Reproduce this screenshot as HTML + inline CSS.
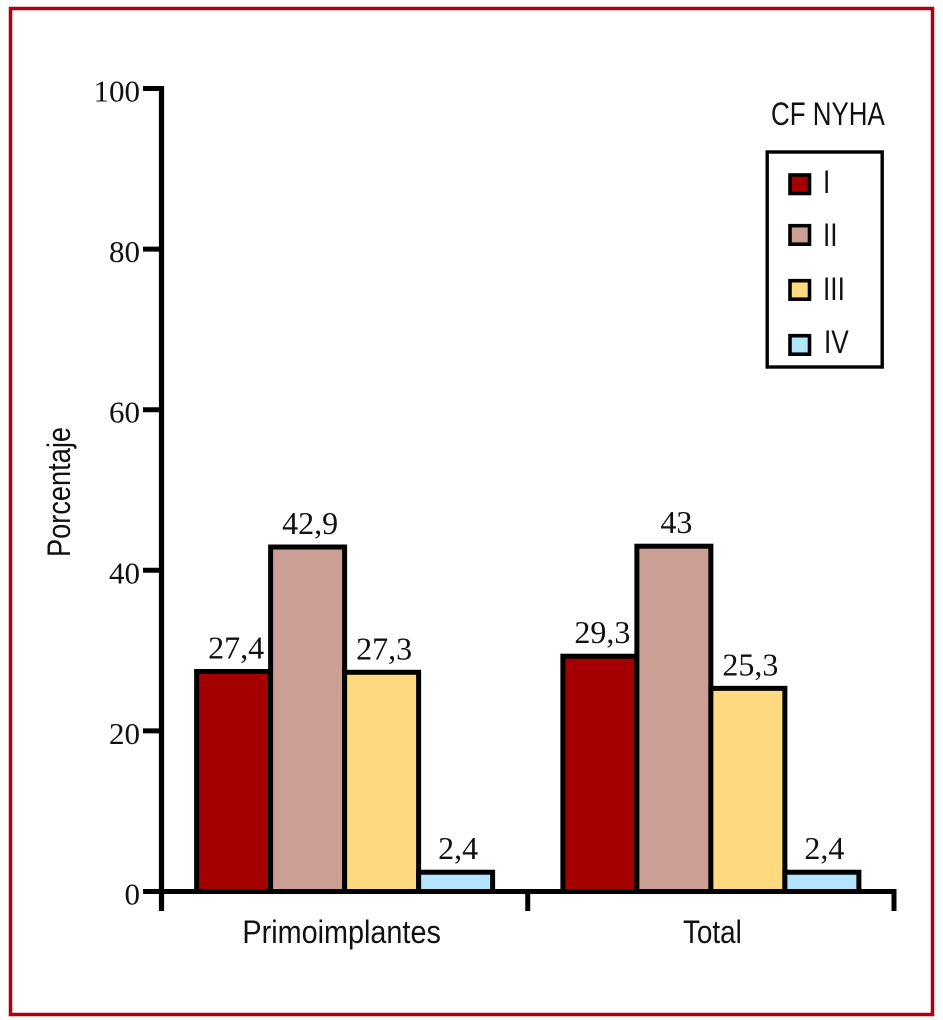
<!DOCTYPE html>
<html lang="es">
<head>
<meta charset="utf-8">
<title>CF NYHA</title>
<style>
html,body{margin:0;padding:0;background:#fff;width:943px;height:1020px;overflow:hidden}
svg{display:block}
.serif{font-family:"Liberation Serif",serif;font-size:32px;fill:#111}
.tick-text{font-size:31px}
.sans{font-family:"Liberation Sans",sans-serif;font-size:32px;fill:#111}
</style>
</head>
<body>
<svg id="chart" xmlns="http://www.w3.org/2000/svg" width="943" height="1020" viewBox="0 0 943 1020">
  <rect x="0" y="0" width="943" height="1020" fill="#fff"/>
  <rect x="10.5" y="8.5" width="922" height="1006" fill="none" stroke="#ae0010" stroke-width="3.5"/>
  <g id="plot"></g>
  <text id="y-title" class="sans" transform="translate(70 557) rotate(-90)">Porcentaje</text>
  <g>
    <text id="legend-title" class="sans" x="771" y="125">CF NYHA</text>
    <rect x="767.2" y="152" width="115" height="215" fill="#fff" stroke="#000" stroke-width="3.4"/>
    <rect x="790" y="175" width="19.5" height="18.5" fill="#a50000" stroke="#000" stroke-width="3.6"/>
    <text class="sans legend-label" x="823" y="193">I</text>
    <rect x="790" y="225.7" width="19.5" height="18.5" fill="#cc9f94" stroke="#000" stroke-width="3.6"/>
    <text class="sans legend-label" x="823" y="246">II</text>
    <rect x="790" y="280.7" width="19.5" height="18.5" fill="#ffd97f" stroke="#000" stroke-width="3.6"/>
    <text class="sans legend-label" x="823" y="300">III</text>
    <rect x="790" y="335.7" width="19.5" height="18.5" fill="#b4e5ff" stroke="#000" stroke-width="3.6"/>
    <text class="sans legend-label" x="824" y="353">IV</text>
  </g>
</svg>
<script>
const categories = ['Primoimplantes', 'Total'];
const seriesNames = ['I', 'II', 'III', 'IV'];
const seriesI = [27.4, 29.3];
const seriesII = [42.9, 43];
const seriesIII = [27.3, 25.3];
const seriesIV = [2.4, 2.4];
const yTicks = [0, 20, 40, 60, 80, 100];
const seriesColors = ['#a50000', '#cc9f94', '#ffd97f', '#b4e5ff'];

const seriesValues = [seriesI, seriesII, seriesIII, seriesIV];
const SVG_NS = 'http://www.w3.org/2000/svg';
const plot = document.getElementById('plot');

const axisLeft = 161.5, bandWidth = 366.25, barWidth = 74;
const y0 = 891.5, yUnit = 8.03;
function yScale(v) { return y0 - v * yUnit; }
function bandStart(i) { return axisLeft + i * bandWidth; }
function bandCenter(i) { return bandStart(i) + bandWidth / 2; }
function barLeft(g, s) { return bandCenter(g) - barWidth * seriesNames.length / 2 + s * barWidth; }

function make(tag, attrs, parent) {
  const el = document.createElementNS(SVG_NS, tag);
  for (const k in attrs) el.setAttribute(k, attrs[k]);
  parent.appendChild(el);
  return el;
}
function condense(el, ratio) {
  el.setAttribute('textLength', el.getComputedTextLength() * ratio);
  el.setAttribute('lengthAdjust', 'spacingAndGlyphs');
}

// bars and value labels
categories.forEach(function (cat, g) {
  seriesValues.forEach(function (values, s) {
    const v = values[g];
    const bar = make('rect', {
      x: barLeft(g, s), y: yScale(v), width: barWidth, height: y0 - yScale(v),
      fill: seriesColors[s], stroke: '#000', 'stroke-width': 5
    }, plot);
    
    
    const label = make('text', {
      x: barLeft(g, s) + barWidth / 2 + 2.5, y: yScale(v) - 13,
      'text-anchor': 'middle', class: 'serif'
    }, plot);
    label.textContent = String(v).replace('.', ',');
    
    
  });
});

// y axis
const yAxisLine = make('line', { x1: axisLeft, x2: axisLeft, y1: yScale(100) - 2.5, y2: 911, stroke: '#000', 'stroke-width': 5.2 }, plot);


yTicks.forEach(function (t) {
  const tick = make('line', { x1: 143, x2: axisLeft, y1: yScale(t), y2: yScale(t), stroke: '#000', 'stroke-width': 5 }, plot);
  
  
  const tl = make('text', { x: 140, y: yScale(t) + 13, 'text-anchor': 'end', class: 'serif tick-text' }, plot);
  tl.textContent = String(t);
  
  
});

// x axis
const xAxisLine = make('line', { x1: axisLeft, x2: bandStart(categories.length) + 2.5, y1: y0, y2: y0, stroke: '#000', 'stroke-width': 5 }, plot);


categories.forEach(function (cat, g) {
  const tick = make('line', { x1: bandStart(g + 1), x2: bandStart(g + 1), y1: y0, y2: 911, stroke: '#000', 'stroke-width': 5 }, plot);
  
  
  const cl = make('text', { x: bandCenter(g) + (g === 0 ? -3 : 1.5), y: 943, 'text-anchor': 'middle', class: 'sans' }, plot);
  cl.textContent = cat;
  
  
  condense(cl, g === 0 ? 0.9 : 0.87);
});

condense(document.getElementById('y-title'), 0.85);
condense(document.getElementById('legend-title'), 0.81);
document.querySelectorAll('.legend-label').forEach(function (el) { condense(el, 0.82); });
</script>
</body>
</html>
